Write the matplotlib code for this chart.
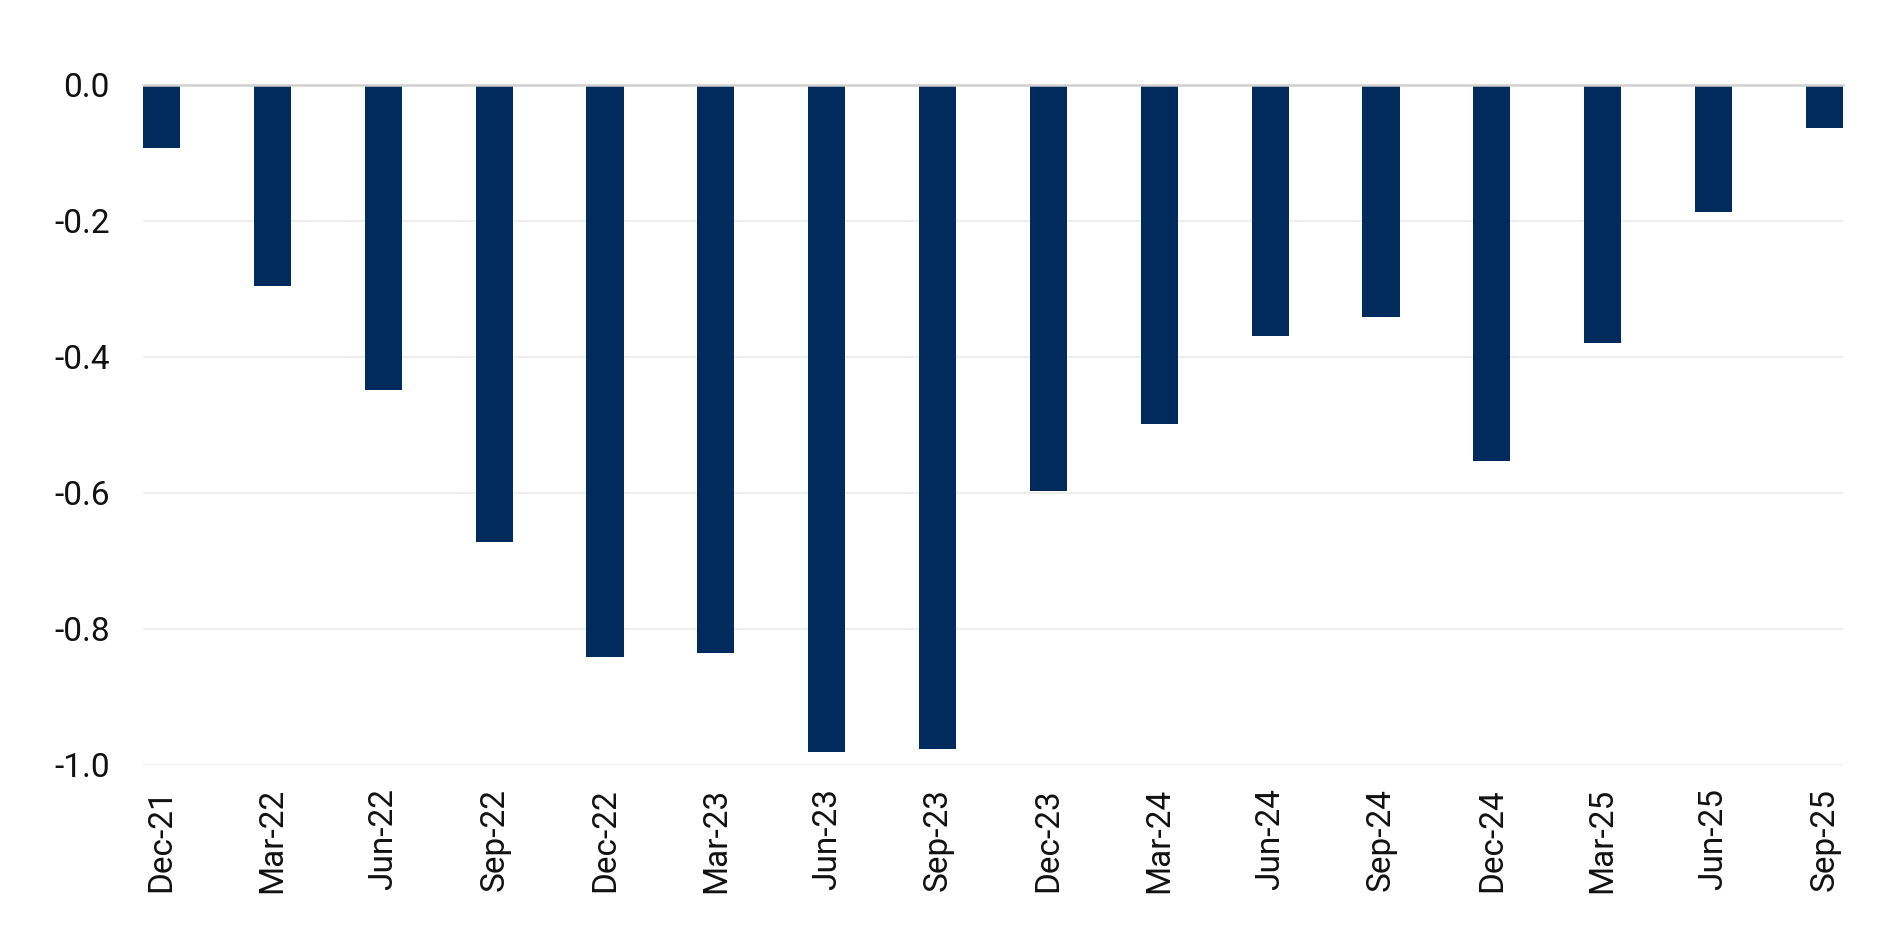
import matplotlib.pyplot as plt
import numpy as np

plt.rcParams["font.family"] = ["Roboto", "DejaVu Sans"]

quarters = ["Dec-21", "Mar-22", "Jun-22", "Sep-22", "Dec-22", "Mar-23", "Jun-23", "Sep-23",
            "Dec-23", "Mar-24", "Jun-24", "Sep-24", "Dec-24", "Mar-25", "Jun-25", "Sep-25"]
values = [-0.093, -0.296, -0.449, -0.672, -0.841, -0.836, -0.982, -0.977,
          -0.597, -0.499, -0.369, -0.342, -0.553, -0.380, -0.187, -0.064]
yticks = [0.0, -0.2, -0.4, -0.6, -0.8, -1.0]

bar_w = 0.335
x = np.arange(len(quarters))

fig = plt.figure(figsize=(19, 9.51), dpi=100)
ax = fig.add_axes([0.0753, 0.196, 0.8947, 0.7148])

ax.bar(x, values, width=bar_w, color="#002b5c", zorder=3)

ax.set_xlim(-bar_w / 2, len(quarters) - 1 + bar_w / 2)
ax.set_ylim(-1.0, 0.0)
ax.set_yticks(yticks)
ax.set_yticklabels([f"{v:.1f}" for v in yticks])
ax.set_xticks(x)
ax.set_xticklabels(quarters, rotation=90)

# light gridlines, darker zero line
for v in yticks[1:]:
    ax.axhline(v, color="#ebebeb", lw=1.2, zorder=1)
ax.axhline(0, color="#d0d0d0", lw=1.8, zorder=4, clip_on=False)

for s in ax.spines.values():
    s.set_visible(False)
ax.tick_params(axis="both", length=0, labelsize=24, colors="#111111")
ax.tick_params(axis="y", pad=24)
ax.tick_params(axis="x", pad=17)

fig.savefig("out.png", dpi=100, facecolor="white")
